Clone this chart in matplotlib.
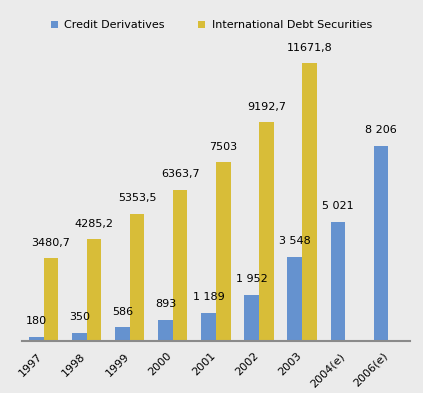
import matplotlib.pyplot as plt
import matplotlib.transforms as mtransforms
import numpy as np

years = ['1997', '1998', '1999', '2000', '2001', '2002', '2003', '2004(e)', '2006(e)']
credit = [180, 350, 586, 893, 1189, 1952, 3548, 5021, 8206]
credit_labels = ['180', '350', '586', '893', '1 189', '1 952', '3 548', '5 021', '8 206']
debt = [3480.7, 4285.2, 5353.5, 6363.7, 7503, 9192.7, 11671.8, None, None]
debt_labels = ['3480,7', '4285,2', '5353,5', '6363,7', '7503', '9192,7', '11671,8', '', '']

bg = '#ebebeb'
blue = '#6592cf'
gold = '#d8bd38'

fig = plt.figure(figsize=(4.23, 3.93), dpi=100, facecolor=bg)
ax = fig.add_axes([0.052, 0.132, 0.917, 0.766])
ax.set_facecolor(bg)

x = np.arange(len(years))
w = 0.34
d_x = [i for i, v in zip(x, debt) if v is not None]
d_v = [v for v in debt if v is not None]

b1 = ax.bar(x - w / 2, credit, w, color=blue, label='Credit Derivatives')
b2 = ax.bar(np.array(d_x) + w / 2, d_v, w, color=gold, label='International Debt Securities')

for xi, v, t in zip(x, credit, credit_labels):
    ax.annotate(t, (xi - w / 2, v), xytext=(0, 7.5), textcoords='offset points',
                ha='center', va='bottom', fontsize=8)
for xi, v, t in zip(d_x, d_v, debt_labels):
    ax.annotate(t, (xi + w / 2, v), xytext=(0, 7.5), textcoords='offset points',
                ha='center', va='bottom', fontsize=8)

ax.set_xlim(-0.5, len(years) - 0.5)
ax.set_ylim(0, 12640)
ax.set_xticks(x)
ax.set_xticklabels(years, rotation=45, ha='right', rotation_mode='anchor', fontsize=8)
ax.tick_params(axis='x', length=0, pad=7)
shift = mtransforms.ScaledTranslation(-6 / 100, 0, fig.dpi_scale_trans)
for lab in ax.get_xticklabels():
    lab.set_transform(lab.get_transform() + shift)
ax.set_yticks([])
for s in ['top', 'right', 'left']:
    ax.spines[s].set_visible(False)
ax.spines['bottom'].set_color('#8a8a8a')
ax.spines['bottom'].set_linewidth(1.5)

fig.legend(handles=[b1, b2], loc='center', bbox_to_anchor=(0.5, 1 - 25 / 393), ncol=2,
           frameon=False, fontsize=8, handlelength=0.6, handleheight=0.6,
           columnspacing=3.0, handletextpad=0.6)

fig.savefig('out.png', dpi=100, facecolor=bg)
